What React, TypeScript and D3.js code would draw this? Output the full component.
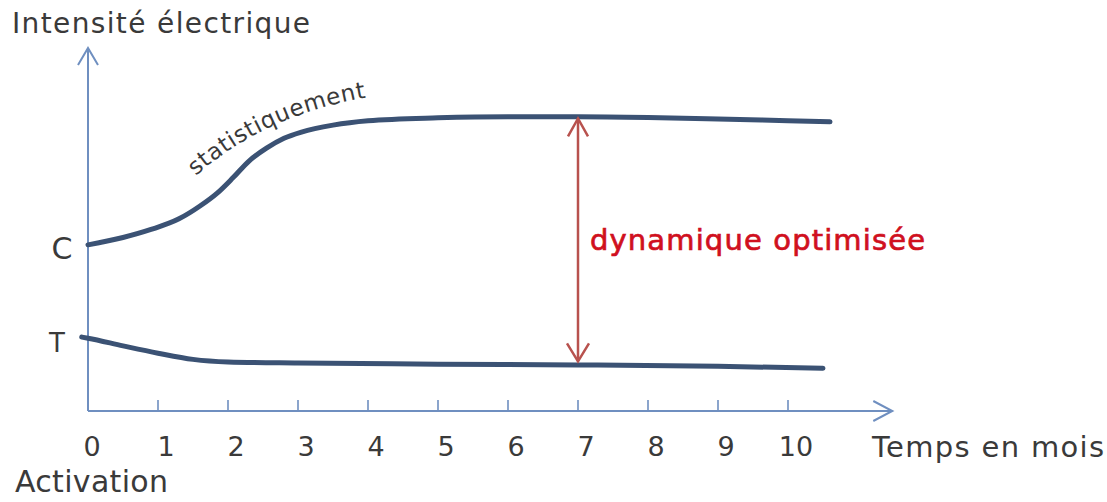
import React from "react";
import * as d3 from "d3";

// ---- data (x in months, y in arbitrary intensity units 0..100) ----
const monthTicks = [0, 1, 2, 3, 4, 5, 6, 7, 8, 9, 10];
const tickLabels = ["0", "1", "2", "3", "4", "5", "6", "7", "8", "9", "10"];

const cMonths = [0, 0.5, 0.9, 1.3, 1.6, 1.85, 2.07, 2.3, 2.55, 2.8, 3.05, 3.5, 4, 5, 6, 7, 8, 9, 10, 10.6];
const cValues = [45.4, 47.4, 49.6, 52.5, 56.0, 59.6, 63.7, 68.3, 71.8, 74.5, 76.2, 78.1, 79.3, 80.1, 80.4, 80.4, 80.2, 79.8, 79.3, 79.0];

const tMonths = [-0.09, 0, 0.5, 1, 1.5, 2, 3, 5, 7, 9, 10.5];
const tValues = [20.2, 19.9, 17.8, 15.8, 14.1, 13.4, 13.1, 12.8, 12.6, 12.2, 11.7];

// annotation: double arrow at month 7 between the two curves
const arrowMonth = 7;
const arrowTop = 80.2;
const arrowBottom = 13.3;

// label path for "statistiquement" (month, value)
const labelPathPts: [number, number][] = [
  [1.54, 64.2],
  [2.5, 80.5],
  [3.93, 85.5],
];

const W = 1107;
const H = 502;

const x = d3.scaleLinear().domain([0, 10]).range([88, 788]);
const y = d3.scaleLinear().domain([0, 100]).range([411, 45]);

const line = d3
  .line<[number, number]>()
  .x((d) => x(d[0]))
  .y((d) => y(d[1]))
  .curve(d3.curveMonotoneX);

const cData: [number, number][] = cMonths.map((m, i) => [m, cValues[i]]);
const tData: [number, number][] = tMonths.map((m, i) => [m, tValues[i]]);

const FONT = "'DejaVu Sans', sans-serif";
const TEXT = "#3a3a3a";
const AXIS = "#6f8fc0";
const CURVE = "#3b5274";
const ARROW = "#b8524e";
const RED = "#d0101e";

export default function App() {
  const x0 = x(0);
  const y0 = y(0);
  const yTop = y(99.2);
  const xEnd = x(11.49);

  const lp = d3.path();
  lp.moveTo(x(labelPathPts[0][0]), y(labelPathPts[0][1]));
  lp.quadraticCurveTo(
    x(labelPathPts[1][0]),
    y(labelPathPts[1][1]),
    x(labelPathPts[2][0]),
    y(labelPathPts[2][1])
  );

  const ax = x(arrowMonth);
  const ayT = y(arrowTop) + 1;
  const ayB = y(arrowBottom) - 1;

  return (
    <svg
      width={W}
      height={H}
      style={{ position: "absolute", left: 0, top: 0, background: "#fff" }}
    >
      {/* title */}
      <text x={12} y={33} fontFamily={FONT} fontSize={28} fill={TEXT} textLength={298} lengthAdjust="spacing">
        Intensité électrique
      </text>

      {/* y axis */}
      <line x1={x0} y1={y0} x2={x0} y2={yTop} stroke={AXIS} strokeWidth={2} />
      <polyline
        points={`${x0 - 10},${yTop + 17} ${x0},${yTop} ${x0 + 10},${yTop + 17}`}
        fill="none"
        stroke={AXIS}
        strokeWidth={2}
      />

      {/* x axis */}
      <line x1={x0} y1={y0} x2={xEnd} y2={y0} stroke={AXIS} strokeWidth={2} />
      <polyline
        points={`${xEnd - 19},${y0 - 10} ${xEnd},${y0} ${xEnd - 19},${y0 + 10}`}
        fill="none"
        stroke={AXIS}
        strokeWidth={2}
      />
      {monthTicks.slice(1).map((m) => (
        <line key={m} x1={x(m)} x2={x(m)} y1={y0} y2={y0 - 11} stroke={AXIS} strokeWidth={1.6} />
      ))}
      {monthTicks.map((m, i) => (
        <text
          key={"l" + m}
          x={x(m) + (m === 0 ? 4 : 8)}
          y={456}
          textAnchor="middle"
          fontFamily={FONT}
          fontSize={27}
          fill={TEXT}
        >
          {tickLabels[i]}
        </text>
      ))}
      <text x={872} y={457} fontFamily={FONT} fontSize={29} fill={TEXT} textLength={232} lengthAdjust="spacing">
        Temps en mois
      </text>
      <text x={15} y={492} fontFamily={FONT} fontSize={30} fill={TEXT} textLength={153} lengthAdjust="spacing">
        Activation
      </text>

      {/* C / T labels */}
      <text x={62} y={259} textAnchor="middle" fontFamily={FONT} fontSize={30} fill={TEXT}>
        C
      </text>
      <text x={57} y={352} textAnchor="middle" fontFamily={FONT} fontSize={26} fill={TEXT}>
        T
      </text>

      {/* curves */}
      <path d={line(cData) || ""} fill="none" stroke={CURVE} strokeWidth={5} strokeLinecap="round" />
      <path d={line(tData) || ""} fill="none" stroke={CURVE} strokeWidth={5} strokeLinecap="round" />

      {/* statistiquement label */}
      <path id="statPath" d={lp.toString()} fill="none" stroke="none" />
      <text fontFamily={FONT} fontSize={23} fill={TEXT}>
        <textPath href="#statPath" textLength={190} lengthAdjust="spacing">
          statistiquement
        </textPath>
      </text>

      {/* double arrow */}
      <line x1={ax} x2={ax} y1={ayT} y2={ayB} stroke={ARROW} strokeWidth={2.5} />
      <polyline
        points={`${ax - 10},${ayT + 18} ${ax},${ayT} ${ax + 10},${ayT + 18}`}
        fill="none"
        stroke={ARROW}
        strokeWidth={2.5}
      />
      <polyline
        points={`${ax - 11},${ayB - 18} ${ax},${ayB} ${ax + 11},${ayB - 18}`}
        fill="none"
        stroke={ARROW}
        strokeWidth={2.5}
      />
      <text
        x={590}
        y={250}
        fontFamily={FONT}
        fontSize={29}
        fill={RED}
        stroke={RED}
        strokeWidth={0.7}
        textLength={335}
        lengthAdjust="spacing"
      >
        dynamique optimisée
      </text>
    </svg>
  );
}
